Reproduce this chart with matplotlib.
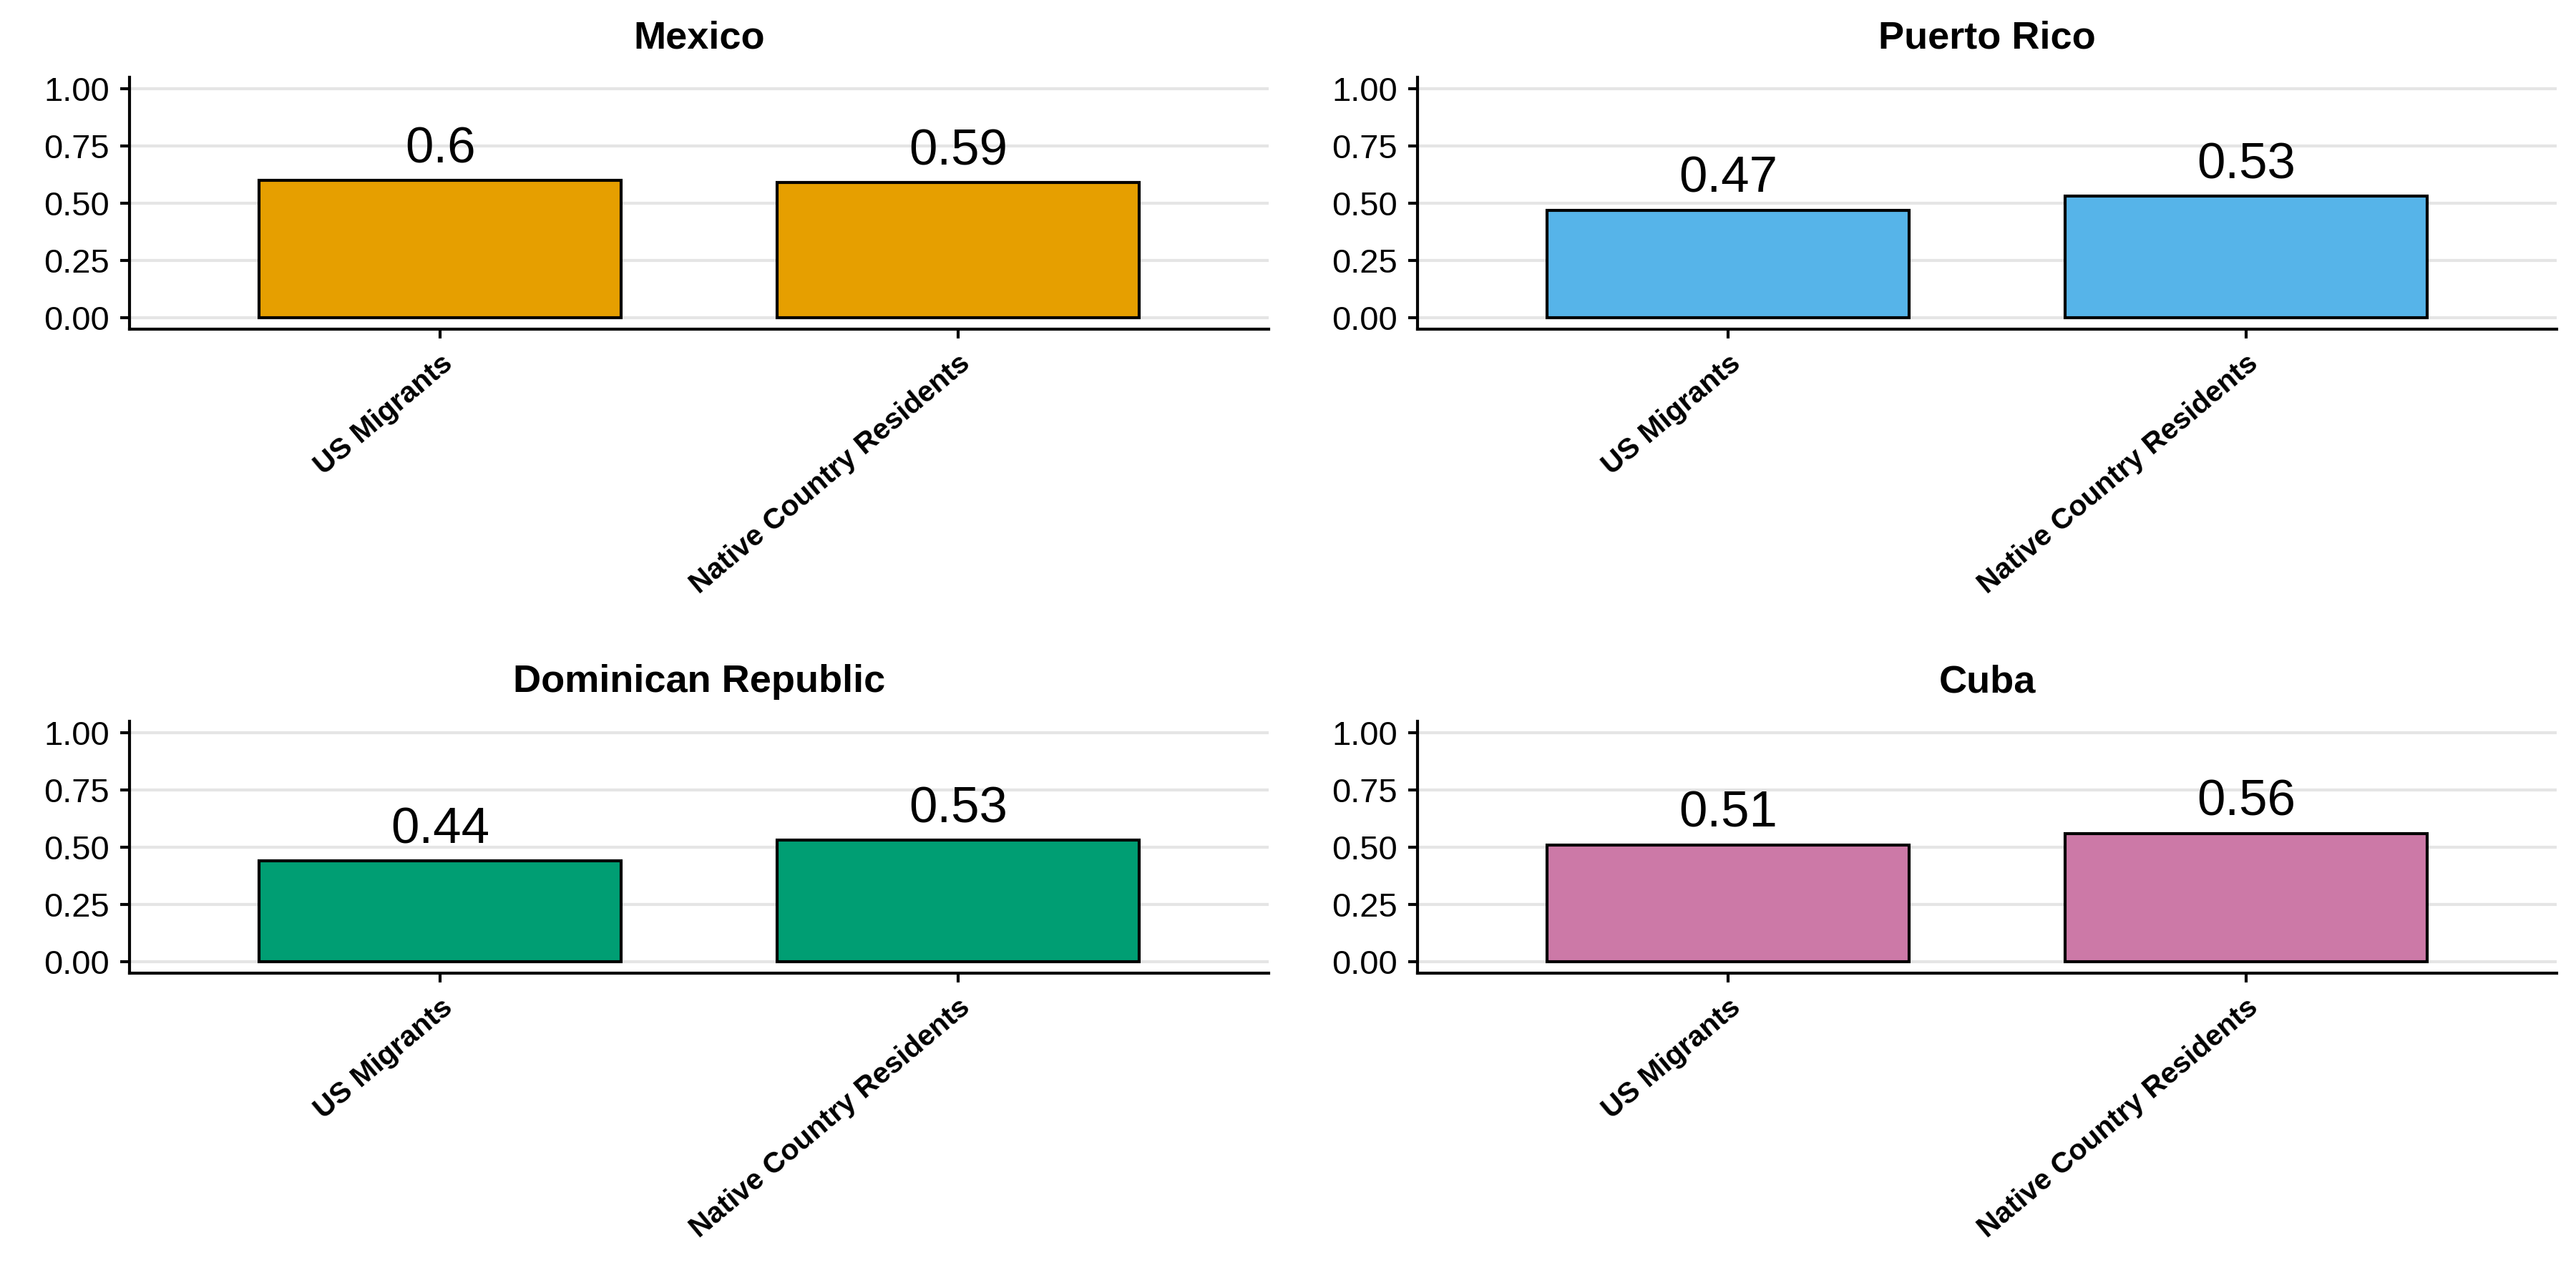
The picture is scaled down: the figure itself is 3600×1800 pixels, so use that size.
import matplotlib
matplotlib.use("Agg")
import matplotlib.pyplot as plt
import numpy as np

plt.rcParams['font.family'] = ['Liberation Sans', 'DejaVu Sans']

countries = ["Mexico", "Puerto Rico", "Dominican Republic", "Cuba"]
groups = ["US Migrants", "Native Country Residents"]
mexico_vals = [0.60, 0.59]
puerto_rico_vals = [0.47, 0.53]
dominican_vals = [0.44, 0.53]
cuba_vals = [0.51, 0.56]
value_labels = [["0.6", "0.59"], ["0.47", "0.53"], ["0.44", "0.53"], ["0.51", "0.56"]]
colors = ["#E69F00", "#56B4E9", "#009E73", "#CC79A7"]
yticks = [0.0, 0.25, 0.5, 0.75, 1.0]
ytick_labels = ["0.00", "0.25", "0.50", "0.75", "1.00"]

all_vals = [mexico_vals, puerto_rico_vals, dominican_vals, cuba_vals]

fig = plt.figure(figsize=(12, 6), dpi=300)
W, H = 3600.0, 1800.0
lefts = [181, 1981]
tops = [108, 1008]
aw, ah = 1592, 352
positions = []
for t in tops:
    for l in lefts:
        positions.append([l / W, 1 - (t + ah) / H, aw / W, ah / H])

for i, (name, vals) in enumerate(zip(countries, all_vals)):
    ax = fig.add_axes(positions[i])
    x = np.arange(1, len(groups) + 1)
    ax.bar(x, vals, width=0.7, color=colors[i], edgecolor="black", linewidth=1.0, zorder=3)
    for xi, v, lab in zip(x, vals, value_labels[i]):
        ax.annotate(lab, (xi, v), xytext=(0, 6), textcoords="offset points",
                    ha="center", va="baseline", fontsize=17, color="black", zorder=4)
    ax.set_xlim(0.4, 2.6)
    ax.set_ylim(-0.05, 1.05)
    ax.set_yticks(yticks)
    ax.set_yticklabels(ytick_labels, fontsize=11.3, color="black")
    ax.set_xticks(x)
    ax.set_xticklabels(groups, rotation=40, ha="right", va="top", rotation_mode="anchor",
                       fontsize=9.8, fontweight="bold", color="black")
    ax.yaxis.grid(True, color="#E5E5E5", linewidth=1.0, zorder=0)
    ax.xaxis.grid(False)
    ax.set_axisbelow(True)
    for s in ["top", "right"]:
        ax.spines[s].set_visible(False)
    for s in ["left", "bottom"]:
        ax.spines[s].set_linewidth(1.0)
        ax.spines[s].set_color("black")
    ax.tick_params(axis="both", direction="out", length=3.2, width=1.0, color="black")
    ax.tick_params(axis="x", pad=3.6)
    ax.tick_params(axis="y", pad=3.6)
    ax.set_title(name, fontsize=13, fontweight="bold", pad=9.8)

fig.savefig("out.png", dpi=300, facecolor="white")
